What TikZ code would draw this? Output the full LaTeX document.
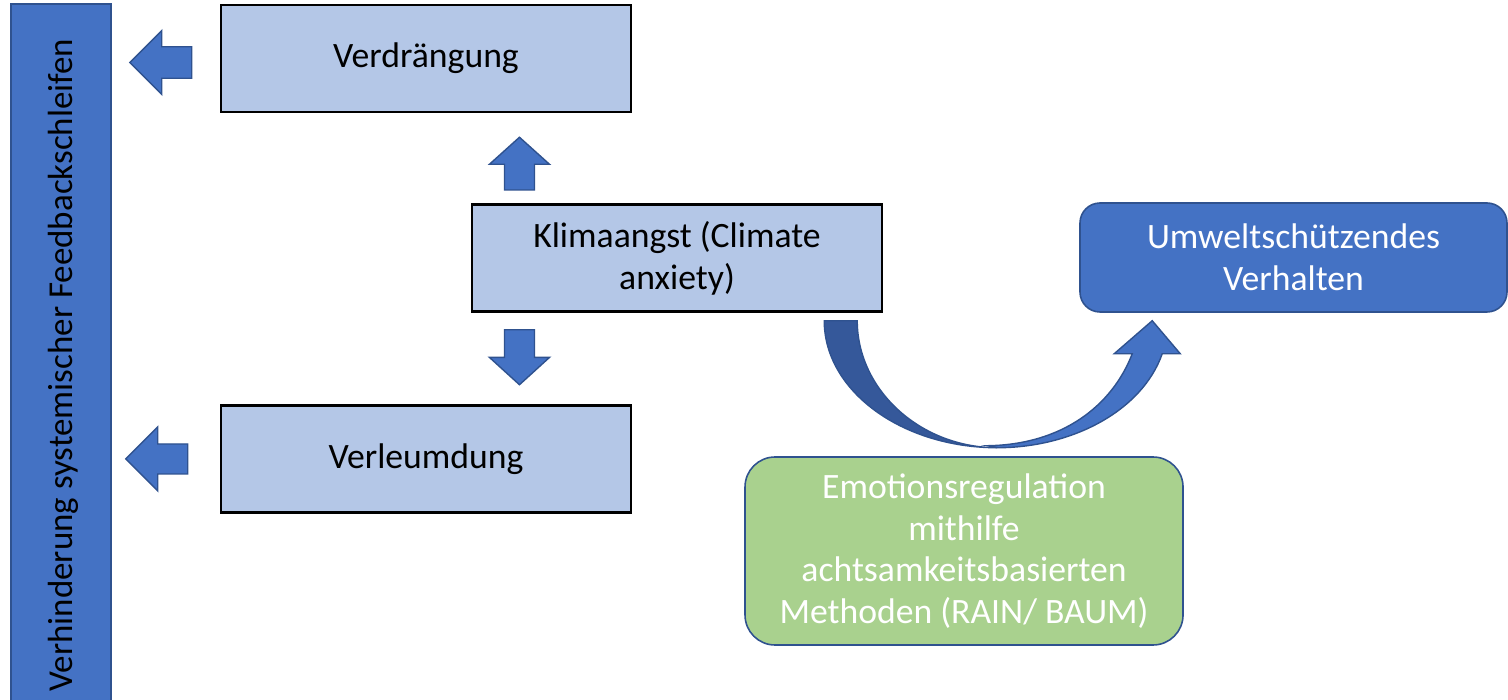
\documentclass[tikz,border=0pt]{standalone}
\usepackage{fontspec}
\setmainfont{Carlito}
\usetikzlibrary{positioning,calc}

\definecolor{paleblue}{HTML}{B4C7E7}
\definecolor{midblue}{HTML}{4472C4}
\definecolor{edgeblue}{HTML}{2F528F}
\definecolor{deepblue}{HTML}{35589A}
\definecolor{sage}{HTML}{A9D18E}

\tikzset{
    txt/.style={font=\fontsize{20.3}{23.8}\selectfont, align=center},
    palebox/.style={txt, draw=black, line width=1.4pt, fill=paleblue, inner sep=0pt},
    bluebox/.style={txt, draw=edgeblue, line width=0.9pt, fill=midblue, text=white, inner sep=0pt},
    blockarrow/.style={draw=edgeblue, line width=0.8pt, fill=midblue, line join=miter},
}

\begin{document}
\begin{tikzpicture}[x=0.2mm, y=-0.2mm]
    \useasboundingbox (0,0) rectangle (1508,700);

    % side bar
    \node [bluebox, minimum width=20mm, minimum height=140mm, anchor=north west] (bar) at (10,3) {};
    \node [txt, font=\fontsize{19.9}{23.8}\selectfont, text=black, rotate=90] (bartext) at (63,365) {Verhinderung systemischer Feedbackschleifen};

    % boxes
    \node [palebox, minimum width=82mm, minimum height=21.4mm] (klima) at (677,258) {Klimaangst (Climate\\anxiety)};
    \node [palebox, minimum width=82mm, minimum height=21.4mm] (verdr) at (426,58.5) {Verdrängung};
    \node [palebox, minimum width=82mm, minimum height=21.4mm, below=58.2mm of verdr] (verl) {Verleumdung};
    \node [bluebox, rounded corners=4mm, minimum width=85.4mm, minimum height=21.8mm] (umwelt) at (1293.5,257.5) {Umweltschützendes\\Verhalten};
    \node [bluebox, fill=sage, rounded corners=6mm, minimum width=87.6mm, minimum height=37.6mm, right=of klima, xshift=-37.8mm, yshift=-58.6mm] (emo) {Emotionsregulation\\mithilfe\\achtsamkeitsbasierten\\Methoden (RAIN/ BAUM)};

    % arrow tips
    \coordinate (tipa) at ($(verdr.west)+(-90,4)$);
    \coordinate (tipb) at ($(verl.west)+(-94,0)$);
    \coordinate (tipc) at ($(klima.north west)+(48.7,-66)$);
    \coordinate (tipd) at ($(klima.south west)+(33.7,17)$);
    \coordinate (bend) at ($(klima.south east)+(-59,8)$);

    \draw [blockarrow] (tipa) -- ++(32,-32) -- ++(0,16.25) -- ++(30,0) -- ++(0,31.5) -- ++(-30,0) -- ++(0,16.25) -- cycle;
    \draw [blockarrow] (tipb) -- ++(32,-32) -- ++(0,17) -- ++(30,0) -- ++(0,30) -- ++(-30,0) -- ++(0,17) -- cycle;
    \draw [blockarrow] (tipc) -- ++(30,27) -- ++(-15,0) -- ++(0,25.7) -- ++(-30,0) -- ++(0,-25.7) -- ++(-15,0) -- cycle;
    \draw [blockarrow] (tipd) -- ++(30,0) -- ++(0,27.7) -- ++(15,0) -- ++(-30,27.3) -- ++(-30,-27.3) -- ++(15,0) -- cycle;

    % curved arrow
    \draw [blockarrow, fill=deepblue] (bend) .. controls ++(0,70) and ++(-95.5,0) .. ++(173,127)
        .. controls ++(-77,0) and ++(0,69) .. ++(-140,-127) -- cycle;
    \draw [blockarrow] ($(bend)+(173,127)$) .. controls ++(75,0) and ++(-20,57) .. ++(165,-94)
        -- ++(18,0) -- ++(-28,-33) -- ++(-38,33) -- ++(18,0)
        .. controls ++(-20,52) and ++(75,-1) .. ++(-145,92) -- cycle;
\end{tikzpicture}
\end{document}
